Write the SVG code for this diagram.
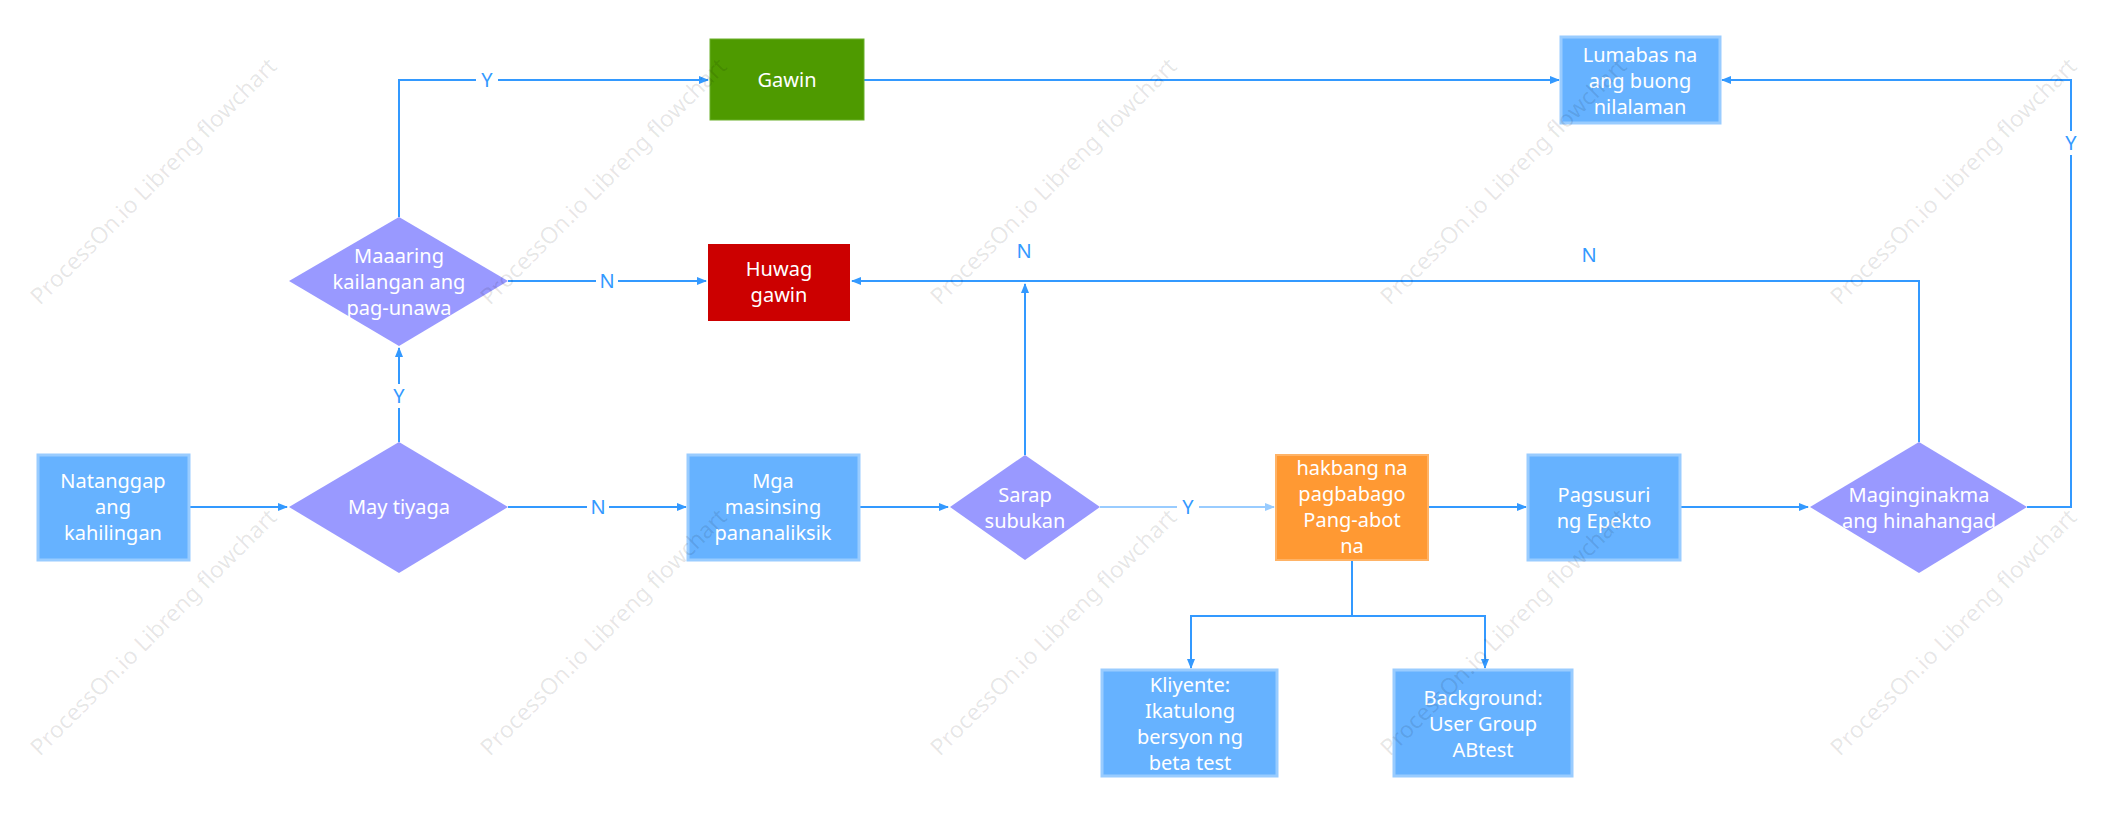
<svg xmlns="http://www.w3.org/2000/svg" width="2115" height="813" viewBox="0 0 2115 813">
<style>
.t{font-family:"Noto Sans","Liberation Sans",sans-serif;font-size:20px;fill:#fff;text-anchor:middle}
.b{fill:#66b2ff;stroke:#99ccff;stroke-width:3}
.d{fill:#9999ff}
.c{fill:none;stroke:#3399ff;stroke-width:2}
.l{font-family:"Noto Sans","Liberation Sans",sans-serif;font-size:20px;fill:#3399ff;text-anchor:middle}
.w{font-family:"Noto Sans","Liberation Sans",sans-serif;font-size:23px;fill:#000;fill-opacity:0.1}
</style>
<defs>
<marker id="a" markerWidth="10" markerHeight="8" refX="9" refY="4" orient="auto" markerUnits="userSpaceOnUse"><path d="M0,0 L10,4 L0,8 Z" fill="#3399ff"/></marker>
<marker id="a2" markerWidth="10" markerHeight="8" refX="9" refY="4" orient="auto" markerUnits="userSpaceOnUse"><path d="M0,0 L10,4 L0,8 Z" fill="#99ccff"/></marker>
</defs>
<rect width="2115" height="813" fill="#fff"/>
<g id="connectors">
<path class="c" d="M189,507 H287" marker-end="url(#a)"/>
<path class="c" d="M508,507 H686" marker-end="url(#a)"/>
<path class="c" d="M399,442 V348" marker-end="url(#a)"/>
<path class="c" d="M508,281 H706" marker-end="url(#a)"/>
<path class="c" d="M399,217 V80 H708" marker-end="url(#a)"/>
<path class="c" d="M864,80 H1559" marker-end="url(#a)"/>
<path class="c" d="M859,507 H948" marker-end="url(#a)"/>
<path class="c" d="M1025,455 V284" marker-end="url(#a)"/>
<path d="M1100,507 H1274" fill="none" stroke="#99ccff" stroke-width="2" marker-end="url(#a2)"/>
<path class="c" d="M1428,507 H1526" marker-end="url(#a)"/>
<path class="c" d="M1680,507 H1808" marker-end="url(#a)"/>
<path class="c" d="M1919,442 V281 H852" marker-end="url(#a)"/>
<path class="c" d="M2027,507 H2071 V80 H1722" marker-end="url(#a)"/>
<path class="c" d="M1352,560 V616 H1191 V668" marker-end="url(#a)"/>
<path class="c" d="M1352,616 H1485 V668" marker-end="url(#a)"/>
<g class="l">
<rect x="476" y="68" width="22" height="24" fill="#fff"/><text x="487" y="87">Y</text>
<rect x="389" y="384" width="20" height="24" fill="#fff"/><text x="399" y="403">Y</text>
<rect x="596" y="269" width="22" height="24" fill="#fff"/><text x="607" y="288">N</text>
<rect x="587" y="495" width="22" height="24" fill="#fff"/><text x="598" y="514">N</text>
<text x="1024" y="258">N</text>
<text x="1589" y="262">N</text>
<rect x="1177" y="495" width="22" height="24" fill="#fff"/><text x="1188" y="514">Y</text>
<rect x="2061" y="131" width="20" height="24" fill="#fff"/><text x="2071" y="150">Y</text>
</g>
</g>
<g id="n1"><rect class="b" x="38" y="455" width="151" height="105"/><text class="t" x="113" y="488">Natanggap</text><text class="t" x="113" y="514">ang</text><text class="t" x="113" y="540">kahilingan</text></g>
<g id="n2"><path class="d" d="M399,442 L508,507 L399,573 L289,507 Z"/><text class="t" x="399" y="514">May tiyaga</text></g>
<g id="n3"><path class="d" d="M399,217 L508,281 L399,346 L289,281 Z"/><text class="t" x="399" y="263">Maaaring</text><text class="t" x="399" y="289">kailangan ang</text><text class="t" x="399" y="315">pag-unawa</text></g>
<g id="n4"><rect x="710" y="39" width="154" height="81" fill="#4e9a00" stroke="#6bb02a" stroke-width="1"/><text class="t" x="787" y="87">Gawin</text></g>
<g id="n5"><rect x="708" y="244" width="142" height="77" fill="#cc0000"/><text class="t" x="779" y="276">Huwag</text><text class="t" x="779" y="302">gawin</text></g>
<g id="n6"><rect class="b" x="688" y="455" width="171" height="105"/><text class="t" x="773" y="488">Mga</text><text class="t" x="773" y="514">masinsing</text><text class="t" x="773" y="540">pananaliksik</text></g>
<g id="n7"><path class="d" d="M1025,455 L1100,507 L1025,560 L950,507 Z"/><text class="t" x="1025" y="502">Sarap</text><text class="t" x="1025" y="528">subukan</text></g>
<g id="n8"><rect x="1276" y="455" width="152" height="105" fill="#ff9933" stroke="#ffb366" stroke-width="2"/><text class="t" x="1352" y="475">hakbang na</text><text class="t" x="1352" y="501">pagbabago</text><text class="t" x="1352" y="527">Pang-abot</text><text class="t" x="1352" y="553">na</text></g>
<g id="n9"><rect class="b" x="1528" y="455" width="152" height="105"/><text class="t" x="1604" y="502">Pagsusuri</text><text class="t" x="1604" y="528">ng Epekto</text></g>
<g id="n10"><path class="d" d="M1919,442 L2027,507 L1919,573 L1810,507 Z"/><text class="t" x="1919" y="502">Maginginakma</text><text class="t" x="1919" y="528">ang hinahangad</text></g>
<g id="n11"><rect class="b" x="1561" y="37" width="159" height="86"/><text class="t" x="1640" y="62">Lumabas na</text><text class="t" x="1640" y="88">ang buong</text><text class="t" x="1640" y="114">nilalaman</text></g>
<g id="n12"><rect class="b" x="1102" y="670" width="175" height="106"/><text class="t" x="1190" y="692">Kliyente:</text><text class="t" x="1190" y="718">Ikatulong</text><text class="t" x="1190" y="744">bersyon ng</text><text class="t" x="1190" y="770">beta test</text></g>
<g id="n13"><rect class="b" x="1394" y="670" width="178" height="106"/><text class="t" x="1483" y="705">Background:</text><text class="t" x="1483" y="731">User Group</text><text class="t" x="1483" y="757">ABtest</text></g>
<g id="watermarks" class="w">
<text transform="translate(40,306) rotate(-45)">ProcessOn.io Libreng flowchart</text>
<text transform="translate(490,306) rotate(-45)">ProcessOn.io Libreng flowchart</text>
<text transform="translate(940,306) rotate(-45)">ProcessOn.io Libreng flowchart</text>
<text transform="translate(1390,306) rotate(-45)">ProcessOn.io Libreng flowchart</text>
<text transform="translate(1840,306) rotate(-45)">ProcessOn.io Libreng flowchart</text>
<text transform="translate(40,757) rotate(-45)">ProcessOn.io Libreng flowchart</text>
<text transform="translate(490,757) rotate(-45)">ProcessOn.io Libreng flowchart</text>
<text transform="translate(940,757) rotate(-45)">ProcessOn.io Libreng flowchart</text>
<text transform="translate(1390,757) rotate(-45)">ProcessOn.io Libreng flowchart</text>
<text transform="translate(1840,757) rotate(-45)">ProcessOn.io Libreng flowchart</text>
</g>
</svg>
